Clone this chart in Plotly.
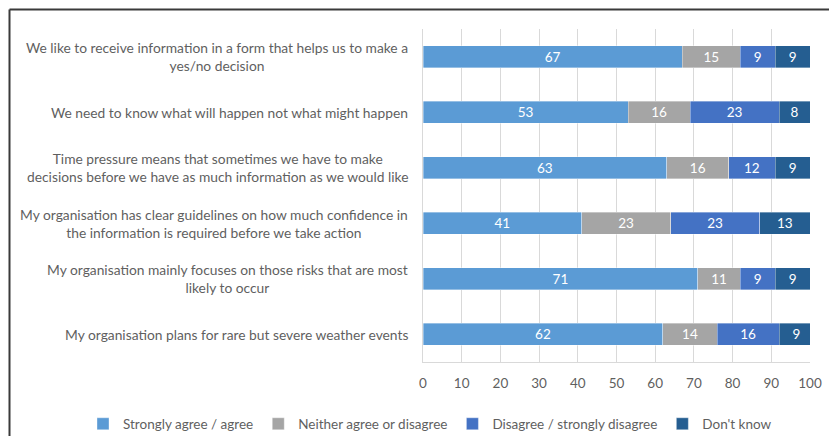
import plotly.graph_objects as go

statements = [
    "We like to receive information in a form that helps us to make a<br>yes/no decision",
    "We need to know what will happen not what might happen",
    "Time pressure means that sometimes we have to make<br>decisions before we have as much information as we would like",
    "My organisation has clear guidelines on how much confidence in<br>the information is required before we take action",
    "My organisation mainly focuses on those risks that are most<br>likely to occur",
    "My organisation plans for rare but severe weather events",
]

series_names = [
    "Strongly agree / agree",
    "Neither agree or disagree",
    "Disagree / strongly disagree",
    "Don't know",
]

strongly_agree = [67, 53, 63, 41, 71, 62]
neither = [15, 16, 16, 23, 11, 14]
disagree = [9, 23, 12, 23, 9, 16]
dont_know = [9, 8, 9, 13, 9, 9]

x_ticks = [0, 10, 20, 30, 40, 50, 60, 70, 80, 90, 100]

colors = ["#5B9BD5", "#A5A5A5", "#4472C4", "#255E91"]
FONT = "Lato"
TEXT_GREY = "#5F5F5F"

W, H = 829, 436
ML, MR, MT, MB = 423, 19, 29, 74
PW = W - ML - MR
PH = H - MT - MB

row_ids = list(range(len(statements)))

fig = go.Figure()
for name, vals, col in zip(series_names,
                           [strongly_agree, neither, disagree, dont_know],
                           colors):
    fig.add_trace(go.Bar(
        name=name,
        y=row_ids,
        x=vals,
        orientation="h",
        marker=dict(color=col, line=dict(color="rgba(255,255,255,0.6)", width=0.6)),
        text=[str(v) for v in vals],
        textposition="inside",
        insidetextanchor="middle",
        textangle=0,
        textfont=dict(color="white", size=13.5, family=FONT),
        constraintext="none",
        cliponaxis=True,
    ))

# Statement labels, centred per line and right-aligned against the axis
for i, s in enumerate(statements):
    fig.add_annotation(
        x=0, xref="paper", xshift=-13,
        y=i, yref="y",
        text=s, showarrow=False,
        xanchor="right", yanchor="middle", align="center",
        font=dict(family=FONT, size=13.8, color=TEXT_GREY),
    )

# Frame lines along the top and left edge
def px_x(p):
    return (p - ML) / PW

def px_y(p):
    return (H - MB - p) / PH

frame = dict(color="#3A3A3A", width=2)
fig.add_shape(type="line", xref="paper", yref="paper",
              x0=px_x(9.5), x1=px_x(829), y0=px_y(9.5), y1=px_y(9.5), line=frame)
fig.add_shape(type="line", xref="paper", yref="paper",
              x0=px_x(9.5), x1=px_x(9.5), y0=px_y(9.5), y1=px_y(440), line=frame)

fig.update_layout(
    width=W, height=H,
    margin=dict(l=ML, r=MR, t=MT, b=MB, pad=0, autoexpand=False),
    barmode="stack",
    bargap=0.6,
    plot_bgcolor="white",
    paper_bgcolor="white",
    font=dict(family=FONT, size=13.5, color=TEXT_GREY),
    xaxis=dict(
        range=[0, 100],
        tickvals=x_ticks,
        ticktext=[str(t) for t in x_ticks],
        showgrid=True,
        gridcolor="#D9D9D9",
        gridwidth=1,
        zeroline=False,
        showline=True,
        linecolor="#D9D9D9",
        linewidth=1,
        mirror=False,
        ticks="",
        ticklabelstandoff=9,
        tickfont=dict(family=FONT, size=13.5, color=TEXT_GREY),
        fixedrange=True,
    ),
    yaxis=dict(
        range=[len(statements) - 0.5, -0.5],
        showticklabels=False,
        showgrid=False,
        zeroline=False,
        showline=True,
        linecolor="#D9D9D9",
        linewidth=1,
        fixedrange=True,
    ),
    legend=dict(
        orientation="h",
        xref="paper", yref="paper",
        x=px_x(83), xanchor="left",
        y=px_y(424), yanchor="middle",
        font=dict(family=FONT, size=13.5, color=TEXT_GREY),
        traceorder="normal",
        itemwidth=30,
        bgcolor="rgba(0,0,0,0)",
    ),
    showlegend=True,
)

fig.write_html("out.html")
